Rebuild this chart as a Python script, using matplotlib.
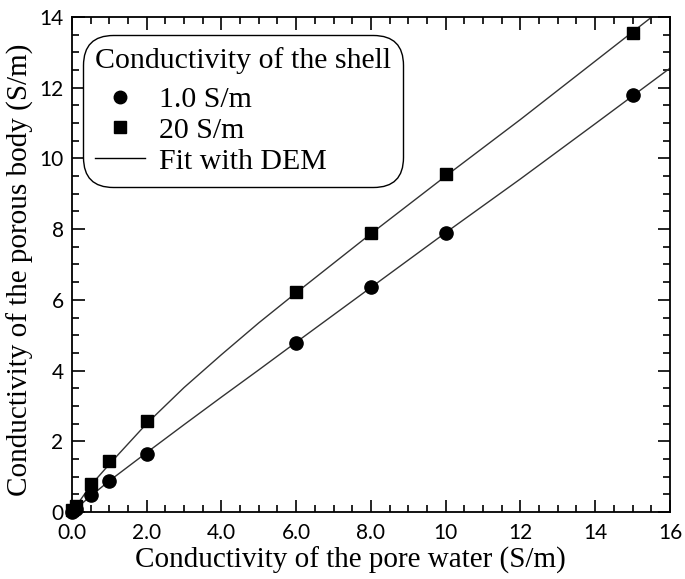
import matplotlib.pyplot as plt
from matplotlib.ticker import MultipleLocator, FixedFormatter, FixedLocator
from matplotlib.lines import Line2D

# Datos
agua = [0.0, 0.1, 0.5, 1.0, 2.0, 6.0, 8.0, 10.0, 15.0]
cuerpo_1 = [0.0, 0.08, 0.48, 0.87, 1.65, 4.78, 6.35, 7.9, 11.8]
cuerpo_20 = [0.05, 0.18, 0.78, 1.45, 2.58, 6.22, 7.9, 9.55, 13.55]

ajuste_x = [0.0, 0.5, 1.0, 2.0, 3.0, 4.0, 5.0, 6.0, 8.0, 10.0, 12.0, 14.0, 16.0]
ajuste_1 = [0.0, 0.45, 0.88, 1.68, 2.47, 3.25, 4.02, 4.8, 6.35, 7.9, 9.42, 10.98, 12.55]
ajuste_20 = [0.0, 0.75, 1.35, 2.5, 3.52, 4.45, 5.35, 6.2, 7.87, 9.5, 11.1, 12.75, 14.4]

serif = "Liberation Serif"
sans = "Lato"

fig = plt.figure(figsize=(6.85, 5.79), dpi=100)
ax = fig.add_axes([0.105, 0.1157, 0.873, 0.855])

ax.plot(ajuste_x, ajuste_1, color="#333333", lw=1.0)
ax.plot(ajuste_x, ajuste_20, color="#333333", lw=1.0)
ax.plot(agua, cuerpo_1, "o", color="black", ms=9.5, ls="none", clip_on=False)
ax.plot(agua, cuerpo_20, "s", color="black", ms=8.5, ls="none", clip_on=False)

ax.set_xlim(0, 16)
ax.set_ylim(0, 14)

ax.xaxis.set_major_locator(FixedLocator([0, 2, 4, 6, 8, 10, 12, 14, 16]))
ax.xaxis.set_major_formatter(FixedFormatter(["0.0", "2.0", "4.0", "6.0", "8.0", "10", "12", "14", "16"]))
ax.xaxis.set_minor_locator(MultipleLocator(0.5))
ax.yaxis.set_major_locator(MultipleLocator(2))
ax.yaxis.set_minor_locator(MultipleLocator(0.5))

ax.tick_params(which="both", direction="in", top=True, right=True, width=1.2)
ax.tick_params(which="major", length=9, labelsize=15)
ax.tick_params(which="minor", length=5)
ax.tick_params(axis="x", which="major", pad=8)
ax.tick_params(axis="y", which="major", pad=6)
for lab in ax.get_xticklabels() + ax.get_yticklabels():
    lab.set_fontfamily(sans)
for s in ax.spines.values():
    s.set_linewidth(1.3)

ax.set_xlabel("Conductivity of the pore water (S/m)", family=serif, fontsize=21)
ax.set_ylabel("Conductivity of the porous body (S/m)", family=serif, fontsize=21)
ax.xaxis.set_label_coords(0.465, -0.071)
ax.yaxis.set_label_coords(-0.064, 0.489)

manijas = [
    Line2D([], [], marker="o", color="black", ls="none", ms=9),
    Line2D([], [], marker="s", color="black", ls="none", ms=8),
    Line2D([], [], color="black", lw=1.0),
]
leg = ax.legend(manijas, ["1.0 S/m", "20 S/m", "Fit with DEM"],
                title="Conductivity of the shell",
                loc="upper left", bbox_to_anchor=(0.018, 0.964),
                prop={"family": serif, "size": 21.5},
                title_fontproperties={"family": serif, "size": 21.5},
                fancybox=True, framealpha=1, edgecolor="black",
                handlelength=1.7, handletextpad=0.45, labelspacing=0.13,
                borderpad=0.4, borderaxespad=0.0)
leg._legend_box.align = "left"
leg._legend_box.sep = 9
leg.get_frame().set_linewidth(1.0)
leg.get_frame().set_boxstyle("round", pad=0.0, rounding_size=1.0)

fig.savefig("out.png", dpi=100)
